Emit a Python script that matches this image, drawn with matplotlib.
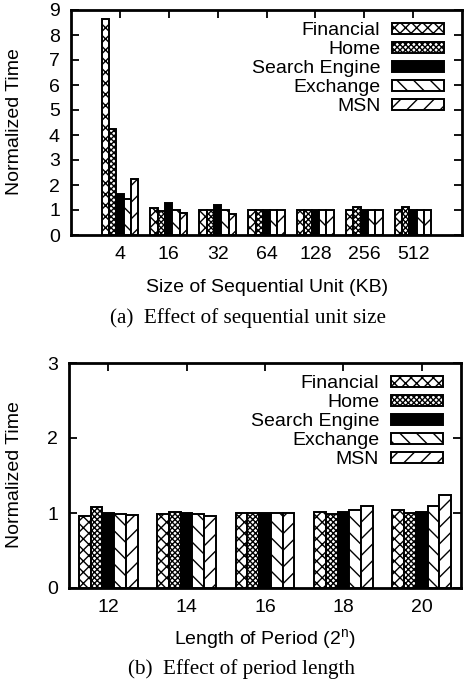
import matplotlib
matplotlib.use("Agg")
import matplotlib.pyplot as plt
import numpy as np

plt.rcParams['font.family'] = ['Liberation Sans', 'DejaVu Sans']
plt.rcParams['hatch.linewidth'] = 1.0

series = ["Financial", "Home", "Search Engine", "Exchange", "MSN"]

# Panel (a)
unit_labels = ["4", "16", "32", "64", "128", "256", "512"]
a_financial = [8.63, 1.08, 1.00, 1.00, 1.00, 1.00, 1.00]
a_home      = [4.24, 0.97, 1.00, 1.00, 1.00, 1.12, 1.12]
a_search    = [1.66, 1.30, 1.20, 1.00, 1.00, 1.00, 1.00]
a_exchange  = [1.44, 1.01, 1.00, 1.00, 1.02, 1.02, 1.02]
a_msn       = [2.26, 0.88, 0.85, 1.00, 1.02, 1.02, 1.02]

# Panel (b)
period_labels = ["12", "14", "16", "18", "20"]
b_financial = [0.955, 0.985, 1.00, 1.01, 1.04]
b_home      = [1.08, 1.02, 1.00, 0.99, 1.00]
b_search    = [1.00, 1.00, 1.00, 1.02, 1.02]
b_exchange  = [0.985, 0.985, 1.00, 1.04, 1.10]
b_msn       = [0.97, 0.96, 1.00, 1.10, 1.24]

hatches = ['xxx', 'xxxxxx', '', '\\\\', '//']
faces = ['white', 'white', 'black', 'white', 'white']

W, H = 465, 685
fig = plt.figure(figsize=(W / 100, H / 100), dpi=100)

def axrect(l, r, t, b):
    return [l / W, 1 - b / H, (r - l) / W, (b - t) / H]

FS = 14
FSC = 15.2

def draw(ax, labels, data, ymax, xlim):
    x = np.arange(len(labels))
    bw = 0.15
    for k, (name, vals) in enumerate(zip(series, data)):
        ax.bar(x + (k - 2) * bw, vals, bw, color=faces[k], edgecolor='black',
               hatch=hatches[k], linewidth=1.4, label=name, zorder=3)
    ax.set_xlim(*xlim)
    ax.set_ylim(0, ymax)
    ax.set_xticks(x)
    ax.set_xticklabels(labels, fontsize=FS)
    ax.set_yticks(range(0, ymax + 1))
    ax.tick_params(axis='y', direction='in', left=True, right=True, length=6,
                   width=1.3, labelsize=FS, pad=8)
    ax.tick_params(axis='x', direction='in', top=True, bottom=False, length=6,
                   width=1.3, labelsize=FS, pad=8)
    for s in ax.spines.values():
        s.set_linewidth(2.0)
    ax.legend(loc='upper right', bbox_to_anchor=(0.965, 0.963),
              markerfirst=False, frameon=False, fontsize=FS,
              handlelength=2.7, handleheight=0.5, labelspacing=0.1,
              handletextpad=0.6, borderaxespad=0.0, borderpad=0.2)
    return ax

ax1 = fig.add_axes(axrect(71, 462, 10, 235))
draw(ax1, unit_labels, [a_financial, a_home, a_search, a_exchange, a_msn], 9, (-1, 7))
ax2 = fig.add_axes(axrect(69, 461, 363, 588))
draw(ax2, period_labels, [b_financial, b_home, b_search, b_exchange, b_msn], 3, (-0.5, 4.5))

fig.text(15 / W, 1 - 122 / H, "Normalized Time", rotation=90, ha='center', va='center', fontsize=FS)
fig.text(15 / W, 1 - 475 / H, "Normalized Time", rotation=90, ha='center', va='center', fontsize=FS)
fig.text(267 / W, 1 - 287 / H, "Size of Sequential Unit (KB)", ha='center', va='center', fontsize=FS)
fig.text(265 / W, 1 - 640 / H, "Length of Period (2$^{\\mathregular{n}}$)", ha='center', va='center', fontsize=FS)
fig.text(248 / W, 1 - 318 / H, "(a)  Effect of sequential unit size", ha='center', va='center',
         fontsize=FSC, family=['Liberation Serif', 'DejaVu Serif'])
fig.text(241 / W, 1 - 669 / H, "(b)  Effect of period length", ha='center', va='center',
         fontsize=FSC, family=['Liberation Serif', 'DejaVu Serif'])

fig.savefig("out.png", dpi=100)
